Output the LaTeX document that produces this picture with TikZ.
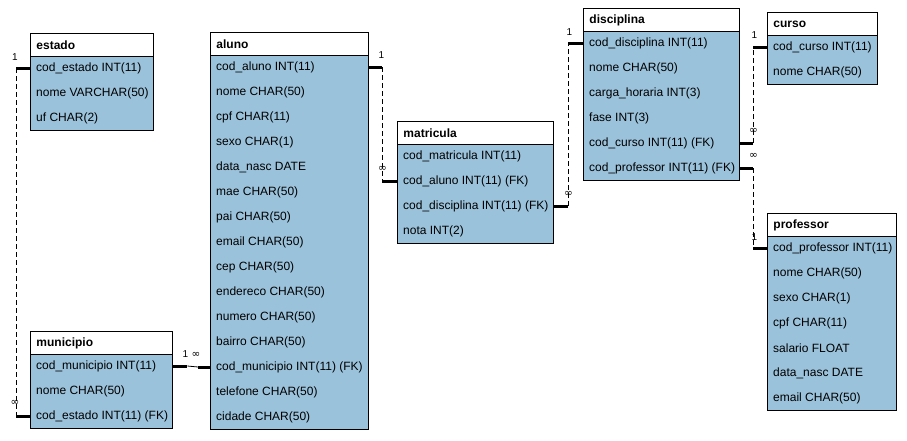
\documentclass[tikz,border=0pt]{standalone}
\usepackage{fontspec}
\setmainfont{Liberation Sans}
\newfontfamily\symfont{DejaVu Sans}
\definecolor{tblue}{RGB}{155,194,219}
\tikzset{
 hdr/.style={draw=black, fill=white, line width=0.9pt, anchor=north west, minimum height=23pt, inner xsep=6pt, inner ysep=0pt, font=\bfseries\fontsize{12}{14}\selectfont},
 bodybox/.style={draw=black, fill=tblue, line width=0.9pt, anchor=north west, inner sep=0pt},
 fieldrow/.style={anchor=west, inner xsep=6pt, inner ysep=0pt, font=\fontsize{12}{14}\selectfont},
 stub/.style={line width=3pt},
 relline/.style={line width=0.8pt, dash pattern=on 5pt off 3pt},
 solidrel/.style={line width=0.8pt},
 card/.style={font=\fontsize{10}{11}\selectfont, inner sep=0pt},
 infcard/.style={font=\symfont\fontsize{10.5}{11}\selectfont, inner sep=0pt},
}
% #1 name, #2 left x, #3 top y, #4 width, #5 title, #6 rows, #7 number of rows
\newcommand{\erdtable}[7]{%
  \pgfmathsetmacro\tw{#4-12}%
  \pgfmathsetmacro\bh{25*#7-1}%
  \node[hdr] (#1) at (#2,#3) {\makebox[\tw pt][l]{#5}};
  \node[bodybox, minimum width=#4pt, minimum height=\bh pt] (#1-body) at (#2,{#3+23}) {};
  \foreach \r [count=\i] in {#6} {
    \node[fieldrow] (#1-\i) at (#2,{#3+35+25*(\i-1)}) {\makebox[\tw pt][l]{\r}};
  }
}
\begin{document}
\begin{tikzpicture}[x=1pt,y=-1pt]
\useasboundingbox (0,0) rectangle (907,440);

\erdtable{estado}{30}{33}{123}{estado}{cod\_estado INT(11),nome VARCHAR(50),uf CHAR(2)}{3}
\erdtable{municipio}{30}{331}{142}{municipio}{cod\_municipio INT(11),nome CHAR(50),cod\_estado INT(11) (FK)}{3}
\erdtable{aluno}{210}{32}{158}{aluno}{cod\_aluno INT(11),nome CHAR(50),cpf CHAR(11),sexo CHAR(1),data\_nasc DATE,mae CHAR(50),pai CHAR(50),email CHAR(50),cep CHAR(50),endereco CHAR(50),numero CHAR(50),bairro CHAR(50),cod\_municipio INT(11) (FK),telefone CHAR(50),cidade CHAR(50)}{15}
\erdtable{matricula}{397}{121}{156}{matricula}{cod\_matricula INT(11),cod\_aluno INT(11) (FK),cod\_disciplina INT(11) (FK),nota INT(2)}{4}
\erdtable{disciplina}{583}{8}{156}{disciplina}{cod\_disciplina INT(11),nome CHAR(50),carga\_horaria INT(3),fase INT(3),cod\_curso INT(11) (FK),cod\_professor INT(11) (FK)}{6}
\erdtable{curso}{767}{12}{110}{curso}{cod\_curso INT(11),nome CHAR(50)}{2}
\erdtable{professor}{767}{213}{129}{professor}{cod\_professor INT(11),nome CHAR(50),sexo CHAR(1),cpf CHAR(11),salario FLOAT,data\_nasc DATE,email CHAR(50)}{7}

% estado - municipio
\coordinate (em1) at ([xshift=-14pt]estado-1.west);
\coordinate (em2) at ([xshift=-14pt]municipio-3.west);
\draw[stub] (estado-1.west) -- (em1);
\draw[relline] (em1) -- (em2);
\draw[stub] (em2) -- (municipio-3.west);
\node[card] (em1l) at ([xshift=-1pt,yshift=11pt]em1) {1};
\node[infcard] (em2l) at ([xshift=-1pt,yshift=13pt]em2) {∞};

% municipio - aluno
\coordinate (ma1) at ([xshift=15pt]municipio-1.east);
\coordinate (ma2) at ([xshift=-12pt]aluno-13.west);
\draw[stub] (municipio-1.east) -- (ma1);
\draw[solidrel] (ma1) -- (ma2);
\draw[stub] (ma2) -- (aluno-13.west);
\node[card] (ma1l) at ([xshift=-2pt,yshift=12pt]ma1) {1};
\node[infcard] (ma2l) at ([xshift=-2pt,yshift=12pt]ma2) {∞};

% aluno - matricula
\coordinate (am1) at ([xshift=14pt]aluno-1.east);
\coordinate (am2) at (am1 |- matricula-2.west);
\draw[stub] (aluno-1.east) -- (am1);
\draw[relline] (am1) -- (am2);
\draw[stub] (am2) -- (matricula-2.west);
\node[card] (am1l) at ([xshift=-1pt,yshift=12pt]am1) {1};
\node[infcard] (am2l) at ([yshift=12pt]am2) {∞};

% matricula - disciplina
\coordinate (md1) at ([xshift=15pt]matricula-3.east);
\coordinate (md2) at (md1 |- disciplina-1.west);
\draw[stub] (matricula-3.east) -- (md1);
\draw[relline] (md1) -- (md2);
\draw[stub] (md2) -- (disciplina-1.west);
\node[infcard] (md1l) at ([yshift=12pt]md1) {∞};
\node[card] (md2l) at ([xshift=1pt,yshift=11pt]md2) {1};

% disciplina - curso
\coordinate (dc1) at ([xshift=14pt]disciplina-5.east);
\coordinate (dc2) at (dc1 |- curso-1.west);
\draw[stub] (disciplina-5.east) -- (dc1);
\draw[relline] (dc1) -- (dc2);
\draw[stub] (dc2) -- (curso-1.west);
\node[infcard] (dc1l) at ([yshift=12pt]dc1) {∞};
\node[card] (dc2l) at ([xshift=1pt,yshift=12pt]dc2) {1};

% disciplina - professor
\coordinate (dp1) at ([xshift=14pt]disciplina-6.east);
\coordinate (dp2) at (dp1 |- professor-1.west);
\draw[stub] (disciplina-6.east) -- (dp1);
\draw[relline] (dp1) -- (dp2);
\draw[stub] (dp2) -- (professor-1.west);
\node[infcard] (dp1l) at ([yshift=12pt]dp1) {∞};
\node[card] (dp2l) at ([xshift=1pt,yshift=11pt]dp2) {1};
\end{tikzpicture}
\end{document}
